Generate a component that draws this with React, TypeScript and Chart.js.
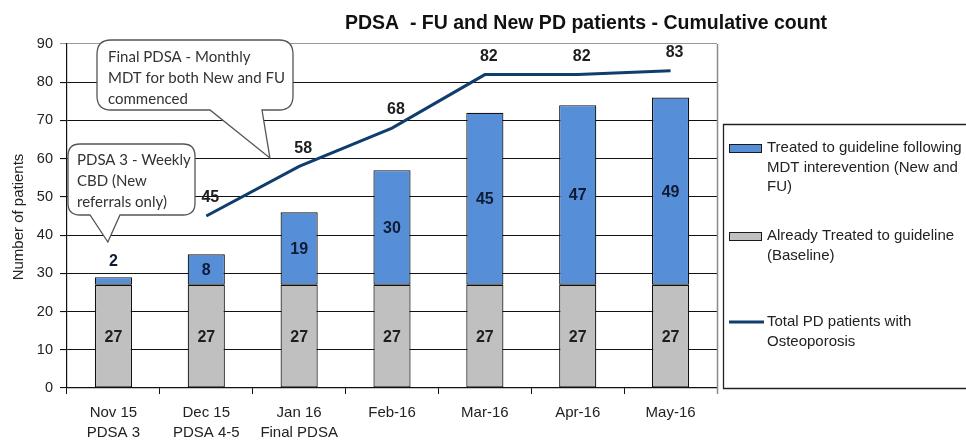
import { useEffect, useRef } from 'react';
import { Chart, registerables } from 'chart.js';

Chart.register(...registerables);

const categories: string[][] = [
  ['Nov 15', 'PDSA 3'],
  ['Dec 15', 'PDSA 4-5'],
  ['Jan 16', 'Final PDSA'],
  ['Feb-16'],
  ['Mar-16'],
  ['Apr-16'],
  ['May-16'],
];
const baseline = [27, 27, 27, 27, 27, 27, 27];
const treatedMdt = [2, 8, 19, 30, 45, 47, 49];
const totalPd: (number | null)[] = [null, 45, 58, 68, 82, 82, 83];

const seriesNames = [
  'Treated to guideline following MDT interevention (New and FU)',
  'Already Treated to guideline (Baseline)',
  'Total PD patients with Osteoporosis',
];
const legendLines: string[][] = [
  ['Treated to guideline following', 'MDT interevention (New and', 'FU)'],
  ['Already Treated to guideline', '(Baseline)'],
  ['Total PD patients with', 'Osteoporosis'],
];
const titleText = 'PDSA  - FU and New PD patients - Cumulative count';
const yAxisTitle = 'Number of patients';
const callout1Lines = ['Final PDSA - Monthly', 'MDT for both New and FU', 'commenced'];
const callout2Lines = ['PDSA 3 - Weekly', 'CBD (New', 'referrals only)'];

const SANS = '"Liberation Sans", Arial, sans-serif';
const CALLOUT_FONT = 'Lato, "Open Sans", sans-serif';
const BLUE = '#568fd7';
const GRAY = '#c0c0c0';
const NAVY = '#0f3d6e';

function drawCallout(
  ctx: CanvasRenderingContext2D,
  bx: number, by: number, bw: number, bh: number, r: number,
  px1: number, px2: number, tipX: number, tipY: number,
  lines: string[], tx: number, ty0: number, lh: number
) {
  const right = bx + bw;
  const bottom = by + bh;
  ctx.save();
  ctx.beginPath();
  ctx.moveTo(bx + r, by);
  ctx.lineTo(right - r, by);
  ctx.quadraticCurveTo(right, by, right, by + r);
  ctx.lineTo(right, bottom - r);
  ctx.quadraticCurveTo(right, bottom, right - r, bottom);
  ctx.lineTo(px2, bottom);
  ctx.lineTo(tipX, tipY);
  ctx.lineTo(px1, bottom);
  ctx.lineTo(bx + r, bottom);
  ctx.quadraticCurveTo(bx, bottom, bx, bottom - r);
  ctx.lineTo(bx, by + r);
  ctx.quadraticCurveTo(bx, by, bx + r, by);
  ctx.closePath();
  ctx.fillStyle = '#ffffff';
  ctx.fill();
  ctx.strokeStyle = '#555555';
  ctx.lineWidth = 1.3;
  ctx.stroke();
  ctx.fillStyle = '#333333';
  ctx.font = `15px ${CALLOUT_FONT}`;
  ctx.textAlign = 'left';
  ctx.textBaseline = 'middle';
  lines.forEach((l, i) => ctx.fillText(l, tx, ty0 + i * lh));
  ctx.restore();
}

const overlayPlugin = {
  id: 'overlay',
  afterDatasetsDraw(chart: any) {
    const ctx: CanvasRenderingContext2D = chart.ctx;
    const area = chart.chartArea;
    ctx.save();
    // plot area right border
    ctx.strokeStyle = '#8a8a8a';
    ctx.lineWidth = 1.5;
    ctx.beginPath();
    ctx.moveTo(area.right + 0.5, area.top);
    ctx.lineTo(area.right + 0.5, area.bottom + 6);
    ctx.stroke();

    // bar labels
    ctx.font = `bold 16px ${SANS}`;
    ctx.textAlign = 'center';
    ctx.textBaseline = 'middle';
    [0, 1].forEach((di) => {
      const meta = chart.getDatasetMeta(di);
      const data = chart.data.datasets[di].data;
      meta.data.forEach((el: any, i: number) => {
        const p = el.getProps(['x', 'y', 'base'], true);
        const h = p.base - p.y;
        ctx.fillStyle = di === 0 ? '#1e1e1e' : '#0e1c36';
        const y = h < 20 ? p.y - 17 : (p.y + p.base) / 2;
        ctx.fillText(String(data[i]), p.x, y + 1);
      });
    });

    // line labels
    const lmeta = chart.getDatasetMeta(2);
    ctx.fillStyle = '#1e1e1e';
    lmeta.data.forEach((el: any, i: number) => {
      const v = totalPd[i];
      if (v === null || v === undefined) return;
      ctx.fillText(String(v), el.x + 4, el.y - 18);
    });
    ctx.restore();
  },
  afterDraw(chart: any) {
    const ctx: CanvasRenderingContext2D = chart.ctx;
    const area = chart.chartArea;
    const xs = chart.scales.x;
    const ys = chart.scales.y;
    ctx.save();

    // title
    ctx.fillStyle = '#111';
    ctx.font = `bold 19.5px ${SANS}`;
    ctx.textAlign = 'center';
    ctx.textBaseline = 'middle';
    ctx.fillText(titleText, 586, 24);

    // y axis title
    ctx.save();
    ctx.translate(19, (area.top + area.bottom) / 2 + 1);
    ctx.rotate(-Math.PI / 2);
    ctx.font = `15px ${SANS}`;
    ctx.fillStyle = '#222';
    ctx.fillText(yAxisTitle, 0, 0);
    ctx.restore();

    // legend box
    ctx.strokeStyle = '#222';
    ctx.lineWidth = 1.3;
    ctx.beginPath();
    ctx.moveTo(966, 124.5);
    ctx.lineTo(723.5, 124.5);
    ctx.lineTo(723.5, 388.5);
    ctx.lineTo(966, 388.5);
    ctx.stroke();

    ctx.font = `15px ${SANS}`;
    ctx.textAlign = 'left';
    ctx.textBaseline = 'middle';
    const rows = [148, 236, 322];
    legendLines.forEach((lines, k) => {
      const y0 = rows[k];
      if (k === 0 || k === 1) {
        ctx.fillStyle = k === 0 ? BLUE : GRAY;
        ctx.fillRect(729, y0 - 4, 33, 9);
        ctx.strokeStyle = '#1a1a1a';
        ctx.lineWidth = 1;
        ctx.strokeRect(729.5, y0 - 3.5, 32, 8);
      } else {
        ctx.strokeStyle = NAVY;
        ctx.lineWidth = 3;
        ctx.beginPath();
        ctx.moveTo(729, y0);
        ctx.lineTo(764, y0);
        ctx.stroke();
      }
      ctx.fillStyle = '#222';
      lines.forEach((l, i) => ctx.fillText(l, 767, y0 + i * 19.5));
    });

    // callouts (pointer tips anchored in data space)
    const tip1x = xs.getPixelForValue(1.685);
    const tip1y = ys.getPixelForValue(60.2);
    drawCallout(ctx, 97, 40, 196, 70, 14, 210, 262, tip1x, tip1y, callout1Lines, 108, 57, 21);
    const tip2x = xs.getPixelForValue(-0.06);
    const tip2y = ys.getPixelForValue(38.2);
    drawCallout(ctx, 68, 144, 127, 71, 12, 90, 120, tip2x, tip2y, callout2Lines, 77, 160, 21);

    ctx.restore();
  },
};

export default function App() {
  const ref = useRef<HTMLCanvasElement>(null);
  useEffect(() => {
    if (!ref.current) return;
    const chart = new Chart(ref.current, {
      type: 'bar',
      data: {
        labels: categories,
        datasets: [
          {
            type: 'bar',
            label: seriesNames[1],
            data: baseline,
            backgroundColor: GRAY,
            borderColor: '#111111',
            borderWidth: 1.2,
            borderSkipped: false,
            barPercentage: 0.4,
            categoryPercentage: 1,
            order: 1,
          },
          {
            type: 'bar',
            label: seriesNames[0],
            data: treatedMdt,
            backgroundColor: BLUE,
            borderColor: '#111111',
            borderWidth: 1.2,
            borderSkipped: false,
            barPercentage: 0.4,
            categoryPercentage: 1,
            order: 1,
          },
          {
            type: 'line',
            label: seriesNames[2],
            data: totalPd,
            borderColor: NAVY,
            backgroundColor: NAVY,
            borderWidth: 3,
            pointRadius: 0,
            tension: 0,
            spanGaps: false,
            stack: 'total',
            order: 0,
          } as any,
        ],
      },
      options: {
        responsive: false,
        animation: false,
        devicePixelRatio: 1,
        layout: { padding: { top: 44, right: 249, left: 0, bottom: 0 } },
        plugins: {
          legend: { display: false },
          title: { display: false },
          tooltip: { enabled: false },
        },
        scales: {
          x: {
            stacked: true,
            grid: {
              display: true,
              drawOnChartArea: false,
              drawTicks: true,
              tickLength: 6,
              color: '#111',
              offset: true,
            },
            border: { display: true, color: '#111', width: 1.2 },
            ticks: {
              color: '#222',
              font: { family: SANS, size: 15, lineHeight: 1.33 },
              padding: 9,
              maxRotation: 0,
              autoSkip: false,
            },
            afterFit: (s: any) => {
              s.height = 52;
            },
          },
          y: {
            stacked: true,
            min: 0,
            max: 90,
            ticks: {
              stepSize: 10,
              color: '#222',
              font: { family: SANS, size: 14.5 },
              padding: 7,
            },
            grid: {
              color: (c: any) => (c.tick && c.tick.value === 90 ? '#999' : '#111'),
              lineWidth: 1.1,
              tickLength: 7,
            },
            border: { display: true, color: '#111', width: 1.2 },
            afterFit: (s: any) => {
              s.width = 67;
            },
          },
        },
      } as any,
      plugins: [overlayPlugin],
    });
    return () => chart.destroy();
  }, []);
  return (
    <div style={{ position: 'fixed', left: 0, top: 0, width: 966, height: 440, background: '#fff' }}>
      <canvas ref={ref} width={966} height={440} style={{ width: 966, height: 440, display: 'block' }} />
    </div>
  );
}
